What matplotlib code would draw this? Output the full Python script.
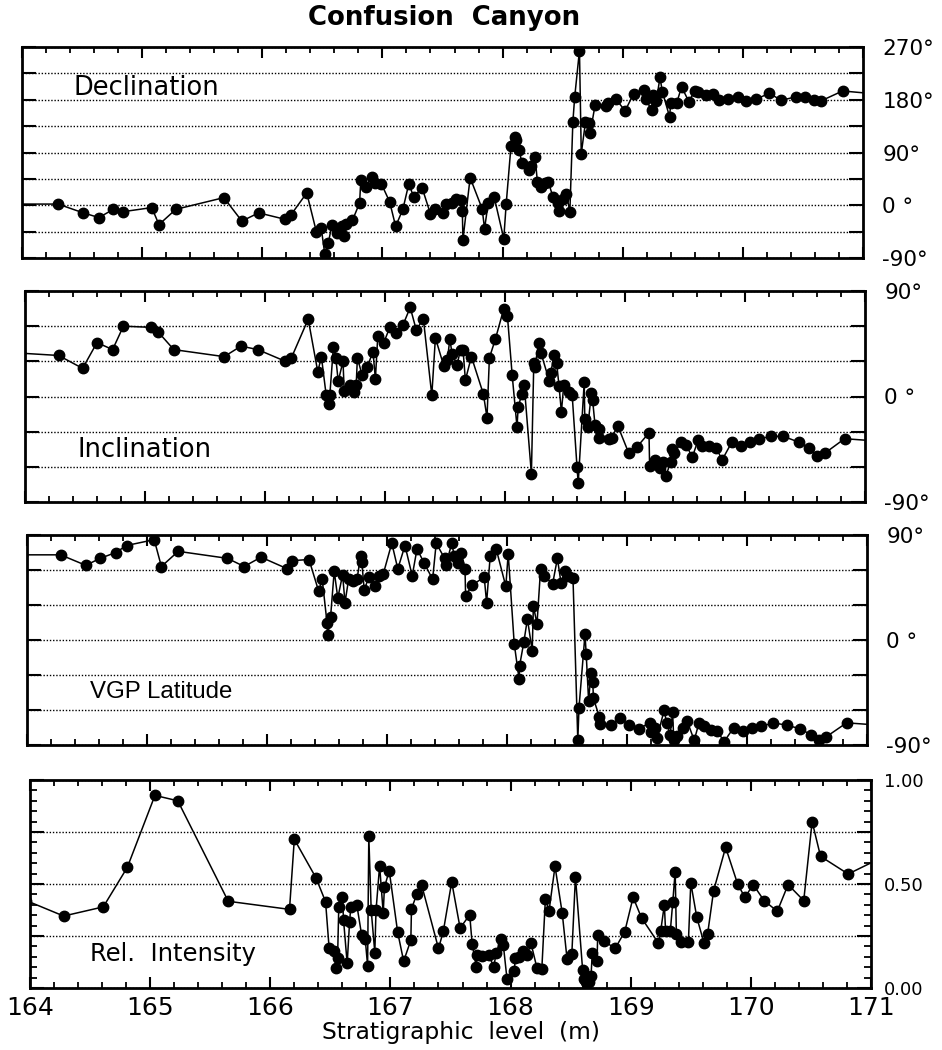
"""Confusion Canyon paleomagnetic record: four stacked panels."""

import matplotlib

matplotlib.use("Agg")
import matplotlib.pyplot as plt
from matplotlib.ticker import MultipleLocator

# --- Declination ---
dec_depth = [163.95, 164.30, 164.51, 164.64, 164.76, 164.84, 165.08, 165.14, 165.28, 165.68,
             165.83, 165.97, 166.19, 166.24, 166.37, 166.45, 166.49, 166.52, 166.55, 166.58,
             166.62, 166.66, 166.68, 166.70, 166.75, 166.81, 166.82, 166.86, 166.91, 166.94,
             166.99, 167.06, 167.11, 167.17, 167.22, 167.26, 167.33, 167.40, 167.44, 167.50,
             167.53, 167.58, 167.61, 167.65, 167.665, 167.67, 167.73, 167.83, 167.85, 167.88,
             167.93, 168.01, 168.03, 168.07, 168.10, 168.11, 168.14, 168.16, 168.22, 168.24,
             168.27, 168.29, 168.32, 168.35, 168.38, 168.42, 168.46, 168.47, 168.50, 168.53,
             168.56, 168.585, 168.60, 168.64, 168.655, 168.69, 168.72, 168.73, 168.77, 168.86,
             168.88, 168.94, 169.02, 169.09, 169.18, 169.19, 169.24, 169.25, 169.28, 169.31,
             169.33, 169.39, 169.40, 169.45, 169.49, 169.55, 169.60, 169.63, 169.69, 169.75,
             169.80, 169.88, 169.96, 170.03, 170.11, 170.22, 170.32, 170.44, 170.52, 170.59,
             170.65, 170.83, 171.10]
dec_value = [2, 2, -13, -21, -7, -11, -4, -33, -7, 13,
             -27, -13, -24, -16, 21, -45, -38, -83, -64, -33,
             -47, -35, -53, -32, -26, 4, 43, 31, 48, 38,
             37, 6, -36, -7, 37, 14, 30, -15, -6, -14,
             2, 4, 11, 9, -9, -59, 47, -6, -40, 3,
             14, -57, 2, 101, 117, 111, 94, 72, 60, 67,
             83, 40, 31, 38, 40, 14, 3, -10, 11, 20,
             -11, 142, 184, 264, 88, 142, 140, 124, 171, 170,
             175, 182, 161, 190, 197, 182, 162, 188, 178, 218,
             194, 151, 175, 175, 202, 177, 195, 194, 188, 189,
             179, 182, 185, 178, 181, 191, 179, 185, 185, 179,
             178, 195, 190]

# --- Inclination ---
inc_depth = [163.96, 164.28, 164.48, 164.60, 164.73, 164.82, 165.05, 165.11, 165.24, 165.66,
             165.80, 165.94, 166.17, 166.22, 166.36, 166.44, 166.47, 166.51, 166.53, 166.54,
             166.57, 166.59, 166.61, 166.65, 166.66, 166.71, 166.74, 166.76, 166.77, 166.81,
             166.85, 166.90, 166.92, 166.94, 166.99, 167.04, 167.09, 167.15, 167.21, 167.26,
             167.32, 167.39, 167.42, 167.49, 167.52, 167.54, 167.56, 167.60, 167.63, 167.65,
             167.67, 167.72, 167.82, 167.85, 167.87, 167.92, 167.99, 168.02, 168.06, 168.10,
             168.11, 168.14, 168.16, 168.22, 168.24, 168.25, 168.28, 168.30, 168.37, 168.38,
             168.41, 168.43, 168.45, 168.47, 168.49, 168.53, 168.56, 168.60, 168.61, 168.66,
             168.665, 168.69, 168.72, 168.73, 168.75, 168.78, 168.785, 168.87, 168.89, 168.94,
             169.03, 169.10, 169.20, 169.205, 169.25, 169.27, 169.29, 169.32, 169.34, 169.38,
             169.39, 169.41, 169.47, 169.51, 169.56, 169.61, 169.64, 169.70, 169.76, 169.81,
             169.89, 169.97, 170.04, 170.12, 170.22, 170.32, 170.45, 170.53, 170.60, 170.67,
             170.83, 171.10]
inc_value = [37, 35, 24, 46, 40, 60, 59, 55, 40, 34,
             43, 40, 30, 33, 66, 21, 34, 1, -6, 1,
             42, 33, 13, 30, 5, 10, 4, 10, 33, 18,
             25, 38, 15, 52, 46, 59, 54, 61, 76, 57,
             66, 1, 50, 26, 31, 49, 36, 27, 40, 40,
             14, 34, 2, -18, 33, 49, 75, 69, 18, -26,
             -9, 2, 10, -66, 29, 25, 46, 37, 13, 20,
             35, 29, 9, -13, 10, 4, 1, -60, -74, 12,
             -19, -26, 3, -3, -24, -28, -35, -36, -35, -25,
             -48, -43, -31, -59, -54, -58, -61, -56, -68, -56,
             -45, -48, -39, -41, -52, -37, -42, -42, -44, -54,
             -39, -42, -39, -36, -34, -34, -39, -44, -51, -48,
             -36, -38]

# --- VGP latitude ---
vgp_depth = [163.96, 164.28, 164.49, 164.61, 164.74, 164.83, 165.06, 165.12, 165.26, 165.67,
             165.81, 165.95, 166.17, 166.21, 166.35, 166.43, 166.46, 166.50, 166.505, 166.53,
             166.56, 166.59, 166.63, 166.65, 166.68, 166.72, 166.75, 166.78, 166.79, 166.81,
             166.85, 166.90, 166.93, 166.97, 167.04, 167.09, 167.15, 167.21, 167.25, 167.31,
             167.38, 167.41, 167.48, 167.49, 167.54, 167.56, 167.59, 167.62, 167.65, 167.655,
             167.71, 167.81, 167.83, 167.86, 167.91, 167.99, 168.01, 168.06, 168.10, 168.105,
             168.14, 168.17, 168.21, 168.22, 168.25, 168.28, 168.31, 168.38, 168.42, 168.45,
             168.48, 168.51, 168.55, 168.59, 168.60, 168.65, 168.66, 168.68, 168.70, 168.715,
             168.72, 168.77, 168.775, 168.87, 168.94, 169.02, 169.10, 169.19, 169.20, 169.23,
             169.25, 169.31, 169.33, 169.36, 169.38, 169.39, 169.42, 169.47, 169.50, 169.56,
             169.60, 169.64, 169.70, 169.75, 169.81, 169.89, 169.97, 170.04, 170.12, 170.22,
             170.33, 170.44, 170.53, 170.60, 170.66, 170.83, 171.10]
vgp_value = [73, 73, 64, 70, 75, 81, 86, 63, 76, 70,
             63, 71, 61, 68, 69, 42, 52, 15, 4, 20,
             59, 36, 56, 32, 52, 51, 52, 72, 67, 43,
             54, 46, 55, 57, 83, 61, 81, 55, 78, 66,
             52, 83, 70, 64, 83, 72, 66, 75, 61, 38,
             47, 54, 32, 72, 78, 46, 74, -3, -33, -22,
             -2, 18, -9, 29, 14, 61, 55, 48, 70, 49,
             59, 55, 53, -86, -58, 5, -12, -52, -28, -36,
             -50, -66, -72, -73, -67, -73, -76, -71, -79, -75,
             -84, -60, -71, -81, -62, -86, -82, -75, -69, -86,
             -71, -74, -77, -78, -87, -75, -78, -75, -74, -71,
             -73, -76, -81, -86, -83, -71, -73]

# --- Relative intensity ---
int_depth = [163.97, 164.28, 164.61, 164.81, 165.04, 165.23, 165.65, 166.16, 166.20, 166.38,
             166.46, 166.49, 166.53, 166.55, 166.56, 166.57, 166.60, 166.61, 166.64, 166.66,
             166.67, 166.72, 166.76, 166.79, 166.81, 166.82, 166.84, 166.87, 166.88, 166.91,
             166.94, 166.95, 166.99, 167.06, 167.11, 167.17, 167.175, 167.22, 167.26, 167.40,
             167.44, 167.51, 167.58, 167.66, 167.68, 167.715, 167.72, 167.76, 167.82, 167.86,
             167.88, 167.92, 167.94, 167.97, 168.03, 168.04, 168.07, 168.10, 168.14, 168.17,
             168.22, 168.26, 168.29, 168.32, 168.37, 168.43, 168.47, 168.51, 168.54, 168.60,
             168.61, 168.63, 168.65, 168.67, 168.68, 168.72, 168.725, 168.78, 168.87, 168.95,
             169.02, 169.09, 169.23, 169.25, 169.28, 169.29, 169.33, 169.35, 169.37, 169.38,
             169.42, 169.48, 169.50, 169.55, 169.61, 169.64, 169.69, 169.79, 169.89, 169.95,
             170.02, 170.11, 170.22, 170.31, 170.44, 170.51, 170.58, 170.81, 171.10]
int_value = [0.42, 0.346, 0.39, 0.58, 0.926, 0.90, 0.417, 0.378, 0.715, 0.53,
             0.415, 0.19, 0.177, 0.094, 0.142, 0.39, 0.436, 0.325, 0.118, 0.317,
             0.389, 0.40, 0.256, 0.237, 0.107, 0.731, 0.373, 0.17, 0.373, 0.588,
             0.36, 0.484, 0.564, 0.269, 0.129, 0.23, 0.38, 0.452, 0.495, 0.19,
             0.272, 0.51, 0.288, 0.352, 0.213, 0.10, 0.16, 0.155, 0.158, 0.10,
             0.17, 0.235, 0.205, 0.045, 0.08, 0.145, 0.15, 0.18, 0.16, 0.215,
             0.095, 0.09, 0.43, 0.37, 0.585, 0.36, 0.14, 0.165, 0.535, 0.085,
             0.045, 0.03, 0.03, 0.06, 0.17, 0.13, 0.255, 0.225, 0.19, 0.27,
             0.436, 0.337, 0.216, 0.276, 0.40, 0.276, 0.276, 0.413, 0.56, 0.26,
             0.221, 0.221, 0.505, 0.34, 0.216, 0.26, 0.468, 0.676, 0.50, 0.436,
             0.497, 0.42, 0.369, 0.497, 0.42, 0.80, 0.633, 0.548, 0.63]

deg_ticks_dec = [-90, -45, 0, 45, 90, 135, 180, 225, 270]
deg_labels_dec = ["-90°", "", "0 °", "", "90°", "", "180°", "", "270°"]
deg_ticks_inc = [-90, -60, -30, 0, 30, 60, 90]
deg_labels_inc = ["-90°", "", "", "0 °", "", "", "90°"]
int_ticks = [0.0, 0.25, 0.5, 0.75, 1.0]
int_labels = ["0.00", "", "0.50", "", "1.00"]
x_ticks = [164, 165, 166, 167, 168, 169, 170, 171]

W, H = 942, 1050


def make_axes(fig, box):
    left, top, right, bottom = box
    return fig.add_axes([left / W, 1 - bottom / H, (right - left) / W, (bottom - top) / H])


def style_axes(ax, ylim, yticks, ylabels, label_size, label_pad, show_x=False):
    ax.set_xlim(164, 171)
    ax.set_ylim(*ylim)
    ax.set_axisbelow(True)
    ax.yaxis.grid(True, linestyle=(0, (1, 1.3)), color="black", linewidth=1.0)
    ax.set_yticks(yticks, labels=ylabels)
    ax.set_xticks(x_ticks)
    ax.xaxis.set_minor_locator(MultipleLocator(0.2))
    ax.tick_params(axis="x", which="major", direction="in", top=True, bottom=True,
                   length=8, width=1.5, labelbottom=show_x, labelsize=18, pad=6)
    ax.tick_params(axis="x", which="minor", direction="in", top=True, bottom=True,
                   length=4, width=1.3)
    ax.tick_params(axis="y", which="major", direction="in", left=True, right=True,
                   length=10, width=1.5, labelleft=False, labelright=True,
                   labelsize=label_size, pad=label_pad)
    for sp in ax.spines.values():
        sp.set_linewidth(2.0)


def draw(ax, x, y):
    ax.plot(x, y, color="black", linewidth=1.1, marker="o", markersize=7.5,
            markerfacecolor="black", markeredgecolor="black")


def main() -> None:
    fig = plt.figure(figsize=(W / 100, H / 100), dpi=100)

    ax1 = make_axes(fig, (22, 47, 863, 258))
    draw(ax1, dec_depth, dec_value)
    style_axes(ax1, (-90, 270), deg_ticks_dec, deg_labels_dec, 15.5, 14)
    ax1.text(0.061, 0.806, "Declination", transform=ax1.transAxes,
             fontsize=18.5, va="center", ha="left")

    ax2 = make_axes(fig, (25, 291, 865, 502))
    draw(ax2, inc_depth, inc_value)
    style_axes(ax2, (-90, 90), deg_ticks_inc, deg_labels_inc, 15.5, 14)
    ax2.text(0.063, 0.246, "Inclination", transform=ax2.transAxes,
             fontsize=18.5, va="center", ha="left")

    ax3 = make_axes(fig, (27, 535, 867, 745))
    draw(ax3, vgp_depth, vgp_value)
    style_axes(ax3, (-90, 90), deg_ticks_inc, deg_labels_inc, 15.5, 14)
    ax3.text(0.075, 0.254, "VGP Latitude", transform=ax3.transAxes,
             fontsize=17.3, va="center", ha="left", family="Liberation Sans")

    ax4 = make_axes(fig, (30, 780, 871, 988))
    draw(ax4, int_depth, int_value)
    style_axes(ax4, (0, 1), int_ticks, int_labels, 13, 9, show_x=True)
    ax4.yaxis.set_minor_locator(MultipleLocator(0.05))
    ax4.tick_params(axis="y", which="minor", direction="in", left=True, right=True,
                    length=5, width=1.3)
    ax4.text(0.071, 0.163, "Rel.  Intensity", transform=ax4.transAxes,
             fontsize=17.5, va="center", ha="left")

    fig.text(444 / W, 1 - 18 / H, "Confusion  Canyon", fontsize=18.7, fontweight="bold",
             ha="center", va="center")
    fig.text(461 / W, 1 - 1032 / H, "Stratigraphic  level  (m)", fontsize=16.8,
             ha="center", va="center")

    fig.savefig("out.png", dpi=100)


if __name__ == "__main__":
    main()
